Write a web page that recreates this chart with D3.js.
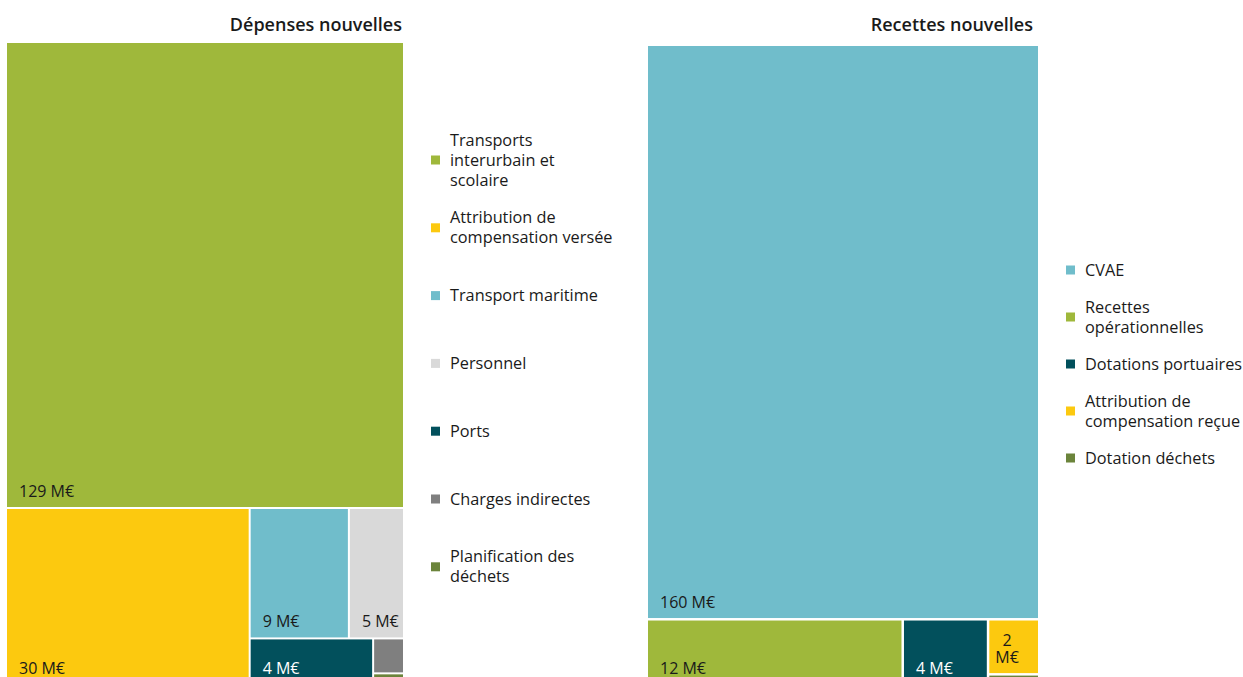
<!DOCTYPE html>
<html>
<head>
<meta charset="utf-8">
<script src="https://cdn.jsdelivr.net/npm/d3@7"></script>
<style>
  body { margin: 0; background: #fff; }
  svg { display: block; font-family: "Open Sans", "Noto Sans", sans-serif; }
</style>
</head>
<body>
<svg id="chart" width="1243" height="677"></svg>
<script>
// New expenditure (M€)
const depenseCategories = [
  "Transports interurbain et scolaire",
  "Attribution de compensation versée",
  "Transport maritime",
  "Personnel",
  "Ports",
  "Charges indirectes",
  "Planification des déchets"
];
const depenseValues = [129, 30, 9, 5, 4, 0.75, 0.25];
const depenseLabels = ["129 M€", "30 M€", "9 M€", "5 M€", "4 M€", "", ""];
const depenseColors = ["#9fb83b", "#fcc90f", "#70bdcb", "#d9d9d9", "#02505c", "#7f7f7f", "#6b843b"];

// New revenue (M€)
const recetteCategories = [
  "CVAE",
  "Recettes opérationnelles",
  "Dotations portuaires",
  "Attribution de compensation reçue",
  "Dotation déchets"
];
const recetteValues = [160, 12, 4, 2, 0.4];
const recetteLabels = ["160 M€", "12 M€", "4 M€", "2 M€", ""];
const recetteColors = ["#70bdcb", "#9fb83b", "#02505c", "#fcc90f", "#6b843b"];

const svg = d3.select("#chart");
const TEXT = "#1a1a1a";
const LABEL_SIZE = 16;
const LEGEND_SIZE = 16.3;

// Strip-based tiling: each strip runs along the shorter side and keeps
// growing while the geometric mean aspect ratio of its cells improves.
function stripTile(parent, x0, y0, x1, y1) {
  const nodes = parent.children;
  let value = parent.value;
  let i = 0;
  while (i < nodes.length) {
    const dx = x1 - x0, dy = y1 - y0;
    const horizontal = dx < dy;
    const side = horizontal ? dx : dy;
    const area = dx * dy;
    const meanRatio = (row, sum) => {
      const thick = area * sum / value / side;
      const logSum = d3.sum(row, n => {
        const len = side * n.value / sum;
        return Math.log(Math.max(thick / len, len / thick));
      });
      return Math.exp(logSum / row.length);
    };
    const row = [nodes[i]];
    let sum = nodes[i].value;
    let best = meanRatio(row, sum);
    let j = i + 1;
    while (j < nodes.length) {
      const trial = row.concat(nodes[j]);
      const r = meanRatio(trial, sum + nodes[j].value);
      if (r > best) break;
      row.push(nodes[j]);
      sum += nodes[j].value;
      best = r;
      j++;
    }
    const thick = j >= nodes.length ? (horizontal ? dy : dx) : area * sum / value / side;
    const strip = { children: row, value: sum };
    if (horizontal) { d3.treemapDice(strip, x0, y0, x1, y0 + thick); y0 += thick; }
    else { d3.treemapSlice(strip, x0, y0, x0 + thick, y1); x0 += thick; }
    value -= sum;
    i = j;
  }
}

function drawTreemap(cfg) {
  const data = cfg.categories.map((name, i) => ({
    name, value: cfg.values[i], label: cfg.labels[i], color: cfg.colors[i]
  }));
  const root = d3.hierarchy({ children: data }).sum(d => d.value || 0);
  d3.treemap()
    .tile(stripTile)
    .size([cfg.width, cfg.height])
    .paddingInner(cfg.gap)
    (root);

  const g = svg.append("g").attr("transform", `translate(${cfg.x},${cfg.y})`);
  const cell = g.selectAll("g.cell")
    .data(root.leaves())
    .join("g")
    .attr("class", "cell");

  cell.append("rect")
    .attr("x", d => d.x0)
    .attr("y", d => d.y0)
    .attr("width", d => Math.max(0, d.x1 - d.x0))
    .attr("height", d => Math.max(0, d.y1 - d.y0))
    .attr("fill", d => d.data.color);

  cell.filter(d => d.data.label).each(function (d) {
    const w = d.x1 - d.x0;
    const fill = d3.hsl(d.data.color).l < 0.35 ? "#ffffff" : TEXT;
    const t = d3.select(this).append("text")
      .attr("fill", fill)
      .attr("font-size", LABEL_SIZE)
      .text(d.data.label)
      .attr("x", d.x0 + 12)
      .attr("y", d.y1 - 10);
    if (t.node().getComputedTextLength() > w - 15) {
      // Narrow cell: break the label into one word per line
      const words = d.data.label.split(" ");
      t.text(null);
      const spans = words.map(wd => t.append("tspan").text(wd));
      const maxW = d3.max(spans, s => s.node().getComputedTextLength());
      const cx = d.x0 + 6 + maxW / 2;
      t.attr("text-anchor", "middle").attr("x", null).attr("y", null);
      spans.forEach((s, k) => {
        s.attr("x", cx).attr("y", d.y1 - 10 - (words.length - 1 - k) * 17);
      });
    }
  });

  // Panel title, right-aligned above the treemap
  svg.append("text")
    .attr("x", cfg.titleX)
    .attr("y", 31)
    .attr("text-anchor", "end")
    .attr("font-size", 18)
    .attr("font-weight", 600)
    .attr("fill", TEXT)
    .text(cfg.title);

  // Legend
  const lg = svg.append("g");
  const probe = svg.append("text").attr("font-size", LEGEND_SIZE).attr("visibility", "hidden");
  data.forEach((d, i) => {
    const cy = cfg.legendTop + i * cfg.legendStep;
    const item = lg.append("g");
    item.append("rect")
      .attr("x", cfg.legendX)
      .attr("y", cy - 4.5)
      .attr("width", 9)
      .attr("height", 9)
      .attr("fill", d.color);
    const txt = item.append("text")
      .attr("font-size", LEGEND_SIZE)
      .attr("fill", TEXT);
    // word wrap inside the legend width
    const words = d.name.split(" ");
    const lines = [];
    let cur = "";
    words.forEach(wd => {
      const trial = cur ? cur + " " + wd : wd;
      probe.text(trial);
      if (cur && probe.node().getComputedTextLength() > cfg.legendWrap) {
        lines.push(cur);
        cur = wd;
      } else {
        cur = trial;
      }
    });
    lines.push(cur);
    lines.forEach((ln, k) => {
      txt.append("tspan")
        .attr("x", cfg.legendX + 19)
        .attr("y", cy + 5.5 + (k - (lines.length - 1) / 2) * 20)
        .text(ln);
    });
  });
  probe.remove();
}

drawTreemap({
  categories: depenseCategories, values: depenseValues,
  labels: depenseLabels, colors: depenseColors,
  x: 7, y: 43, width: 396, height: 641, gap: 2,
  title: "Dépenses nouvelles", titleX: 402,
  legendX: 431, legendTop: 160, legendStep: 67.8, legendWrap: 166
});

drawTreemap({
  categories: recetteCategories, values: recetteValues,
  labels: recetteLabels, colors: recetteColors,
  x: 648, y: 46, width: 390, height: 638.1, gap: 2.5,
  title: "Recettes nouvelles", titleX: 1033,
  legendX: 1066, legendTop: 270, legendStep: 47, legendWrap: 160
});
</script>
</body>
</html>
